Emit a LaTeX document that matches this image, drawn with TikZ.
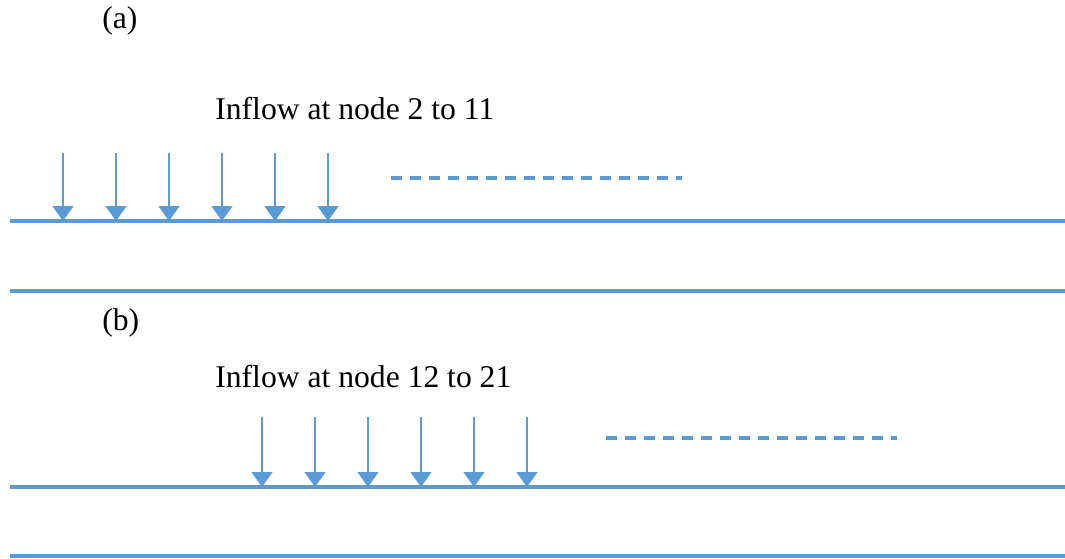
\documentclass[tikz,border=0pt]{standalone}
\usepackage{fontspec}
\setmainfont{Liberation Serif}
\usetikzlibrary{arrows.meta}

\definecolor{pipeblue}{RGB}{91,155,213}

\tikzset{
  pipe/.style={pipeblue,line width=3.6pt*0.02/0.03514},
  inflow/.style={pipeblue,line width=0.8pt,-{Triangle[width=0.42cm,length=0.3cm]}},
  more/.style={pipeblue,line width=1.8pt,dash pattern=on 0.22cm off 0.16cm},
  lbl/.style={font=\fontsize{18}{20}\selectfont,inner sep=0pt,anchor=base west}
}

\begin{document}
\begin{tikzpicture}[x=0.02cm,y=-0.02cm]

\useasboundingbox (0,0) rectangle (1065,558);

%% (a) inflow at the upstream nodes
\node[lbl] (capa) at (102,28) {(a)};
\node[lbl] (txta) at (215,119) {Inflow at node 2 to 11};

\coordinate (a1) at (10,221);
\coordinate (a2) at (1065,221);
\coordinate (a3) at (10,291);
\coordinate (a4) at (1065,291);
\draw[pipe] (a1) -- (a2);
\draw[pipe] (a3) -- (a4);

\foreach \i [count=\k] in {63,116,169,222,275,328}{
  \coordinate (ta\k) at (\i,153);
  \coordinate (ha\k) at (\i,221);
  \draw[inflow] (ta\k) -- (ha\k);
}
\coordinate (da1) at (391,178);
\coordinate (da2) at (682,178);
\draw[more] (da1) -- (da2);

%% (b) inflow further down
\node[lbl] (capb) at (102,330) {(b)};
\node[lbl] (txtb) at (215,387) {Inflow at node 12 to 21};

\coordinate (b1) at (10,487);
\coordinate (b2) at (1065,487);
\coordinate (b3) at (10,556);
\coordinate (b4) at (1065,556);
\draw[pipe] (b1) -- (b2);
\draw[pipe] (b3) -- (b4);

\foreach \i [count=\k] in {262,315,368,421,474,527}{
  \coordinate (tb\k) at (\i,417);
  \coordinate (hb\k) at (\i,487);
  \draw[inflow] (tb\k) -- (hb\k);
}
\coordinate (db1) at (606,438);
\coordinate (db2) at (897,438);
\draw[more] (db1) -- (db2);

\end{tikzpicture}
\end{document}
